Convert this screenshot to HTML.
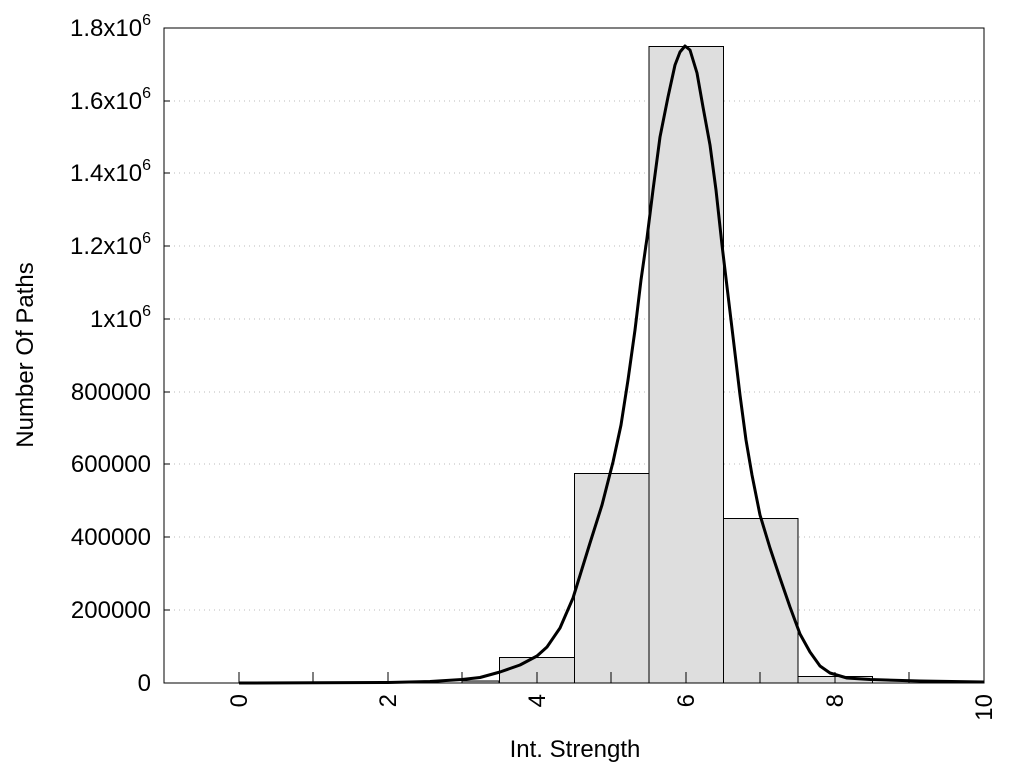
<!DOCTYPE html>
<html><head><style>body{margin:0;background:#fff}svg text{font-family:"Liberation Sans",Arial,sans-serif;font-size:24px;fill:#000}</style></head><body>
<svg width="1024" height="768" viewBox="0 0 1024 768" xmlns="http://www.w3.org/2000/svg">
<g stroke="#bbb" stroke-width="1" stroke-dasharray="1,4">
<line x1="164" y1="610" x2="984" y2="610"/><line x1="164" y1="537" x2="984" y2="537"/><line x1="164" y1="464" x2="984" y2="464"/><line x1="164" y1="392" x2="984" y2="392"/><line x1="164" y1="319" x2="984" y2="319"/><line x1="164" y1="246" x2="984" y2="246"/><line x1="164" y1="173" x2="984" y2="173"/><line x1="164" y1="101" x2="984" y2="101"/>
</g>
<g fill="#dedede" stroke="#000" stroke-width="1">
<rect x="462" y="681" width="37" height="2"/>
<rect x="499.5" y="657.5" width="75" height="25.5"/>
<rect x="574.5" y="473.5" width="74.5" height="209.5"/>
<rect x="649" y="46.5" width="74.5" height="636.5"/>
<rect x="723.5" y="518.5" width="74.5" height="164.5"/>
<rect x="798" y="676.5" width="74.5" height="6.5"/>
</g>
<rect x="164" y="28" width="820" height="655" fill="none" stroke="#000" stroke-width="1"/>
<g stroke="#000" stroke-width="1">
<line x1="239" y1="683" x2="239" y2="672"/><line x1="313" y1="683" x2="313" y2="672"/><line x1="388" y1="683" x2="388" y2="672"/><line x1="462" y1="683" x2="462" y2="672"/><line x1="537" y1="683" x2="537" y2="672"/><line x1="611" y1="683" x2="611" y2="672"/><line x1="686" y1="683" x2="686" y2="672"/><line x1="760" y1="683" x2="760" y2="672"/><line x1="835" y1="683" x2="835" y2="672"/><line x1="909" y1="683" x2="909" y2="672"/>
<line x1="164" y1="610" x2="170" y2="610"/><line x1="164" y1="537" x2="170" y2="537"/><line x1="164" y1="464" x2="170" y2="464"/><line x1="164" y1="392" x2="170" y2="392"/><line x1="164" y1="319" x2="170" y2="319"/><line x1="164" y1="246" x2="170" y2="246"/><line x1="164" y1="173" x2="170" y2="173"/><line x1="164" y1="101" x2="170" y2="101"/>
</g>
<polyline fill="none" stroke="#000" stroke-width="3" stroke-linejoin="round" points="239,683 388,682.5 430,681.5 462,679.5 480,677.5 500,672 520,665 537,656 547,647 560,628 573,598 590,543 602,505 613,462 621,425 628,380 635,330 641,280 647,238 653,190 660,137 668,97 675,65 680,52 685,46 690,50 697,73 703,107 710,145 716,190 722,245 728,295 734,345 740,395 746,440 752,475 760,515 770,548 780,578 790,607 800,634 810,652 820,666 830,673 847,678 870,679.5 920,681 984,682"/>
<g text-anchor="end">
<text x="151" y="691">0</text>
<text x="151" y="618">200000</text>
<text x="151" y="545">400000</text>
<text x="151" y="472">600000</text>
<text x="151" y="400">800000</text>
<text x="151" y="327">1x10<tspan font-size="16" dy="-11">6</tspan></text>
<text x="151" y="254">1.2x10<tspan font-size="16" dy="-11">6</tspan></text>
<text x="151" y="181">1.4x10<tspan font-size="16" dy="-11">6</tspan></text>
<text x="151" y="109">1.6x10<tspan font-size="16" dy="-11">6</tspan></text>
<text x="151" y="36">1.8x10<tspan font-size="16" dy="-11">6</tspan></text>
</g>
<g text-anchor="end">
<text transform="translate(247,694) rotate(-90)">0</text>
<text transform="translate(396,694) rotate(-90)">2</text>
<text transform="translate(545,694) rotate(-90)">4</text>
<text transform="translate(694,694) rotate(-90)">6</text>
<text transform="translate(843,694) rotate(-90)">8</text>
<text transform="translate(992,694) rotate(-90)">10</text>
</g>
<text x="575" y="757" text-anchor="middle">Int. Strength</text>
<text transform="translate(33,355) rotate(-90)" text-anchor="middle">Number Of Paths</text>
</svg>
</body></html>
